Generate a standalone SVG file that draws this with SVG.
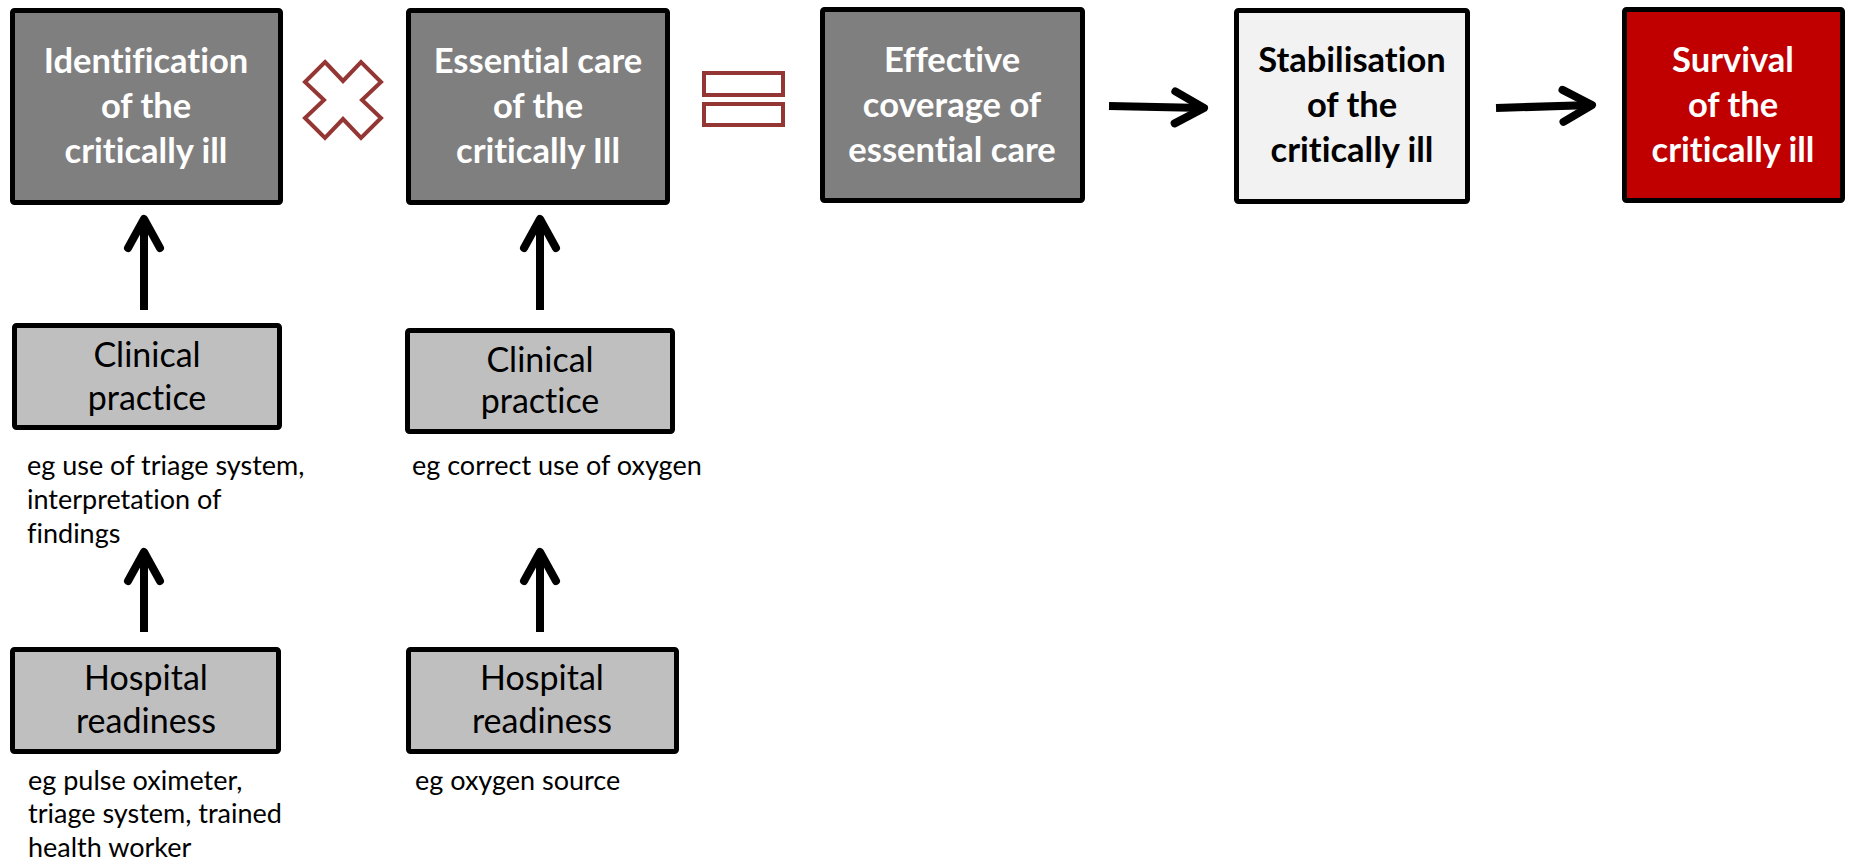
<svg xmlns="http://www.w3.org/2000/svg" width="1850" height="867" viewBox="0 0 1850 867">
<style>
.box{stroke:#000;stroke-width:5}
.dark{fill:#7f7f7f}
.light{fill:#f2f2f2}
.red{fill:#c00000}
.grey{fill:#bfbfbf}
text{font-variant-ligatures:none}
.hd{font-family:Lato,"Liberation Sans",sans-serif;font-weight:bold;font-size:34.5px;text-anchor:middle}
.w{fill:#fff}
.k{fill:#000}
.bd{font-family:Lato,"Liberation Sans",sans-serif;font-size:34px;text-anchor:middle;fill:#000}
.cap{font-family:Lato,"Liberation Sans",sans-serif;font-size:27px;fill:#000}
.op{fill:#fff;stroke:#943634;stroke-width:4}
.con{fill:none;stroke:#000;stroke-width:8;marker-end:url(#chev)}
</style>
<defs>
<marker id="chev" markerUnits="userSpaceOnUse" viewBox="-40 -25 50 50" markerWidth="50" markerHeight="50" refX="0" refY="0" orient="auto" overflow="visible">
<path d="M-29,-16 L0,0 L-29,16" fill="none" stroke="#000" stroke-width="8" stroke-linejoin="round" stroke-linecap="round"/>
</marker>
</defs>
<rect width="1850" height="867" fill="#fff"/>
<g id="identification">
<rect class="box dark" x="12.5" y="10.5" width="268" height="192" rx="2"/>
<text class="hd w"><tspan x="146" y="73">Identification</tspan><tspan x="146" y="118">of the</tspan><tspan x="146" y="163">critically ill</tspan></text>
</g>
<g id="times">
<polygon class="op" points="325,62 343,81 361,62 381,82 362,100 381,118 361,138 343,119 325,138 305,118 324,100 305,82"/>
</g>
<g id="essential-care">
<rect class="box dark" x="408.5" y="10.5" width="259" height="192" rx="2"/>
<text class="hd w"><tspan x="538" y="73">Essential care</tspan><tspan x="538" y="118">of the</tspan><tspan x="538" y="163">critically Ill</tspan></text>
</g>
<g id="equals">
<rect class="op" x="704" y="73" width="79" height="22"/>
<rect class="op" x="704" y="104" width="79" height="21"/>
</g>
<g id="effective-coverage">
<rect class="box dark" x="822.5" y="9.5" width="260" height="191" rx="2"/>
<text class="hd w"><tspan x="952" y="72">Effective</tspan><tspan x="952" y="117">coverage of</tspan><tspan x="952" y="162">essential care</tspan></text>
</g>
<g id="stabilisation">
<rect class="box light" x="1236.5" y="10.5" width="231" height="191" rx="2"/>
<text class="hd k"><tspan x="1352" y="72">Stabilisation</tspan><tspan x="1352" y="117">of the</tspan><tspan x="1352" y="162">critically ill</tspan></text>
</g>
<g id="survival">
<rect class="box red" x="1624.5" y="9.5" width="218" height="191" rx="2"/>
<text class="hd w"><tspan x="1733" y="72">Survival</tspan><tspan x="1733" y="117">of the</tspan><tspan x="1733" y="162">critically ill</tspan></text>
</g>
<g id="clinical-practice-1">
<rect class="box grey" x="14.5" y="325.5" width="265" height="102" rx="2"/>
<text class="bd"><tspan x="147" y="367">Clinical</tspan><tspan x="147" y="410">practice</tspan></text>
<text class="cap"><tspan x="27" y="475">eg use of triage system,</tspan><tspan x="27" y="509">interpretation of</tspan><tspan x="27" y="543">findings</tspan></text>
</g>
<g id="clinical-practice-2">
<rect class="box grey" x="407.5" y="330.5" width="265" height="101" rx="2"/>
<text class="bd"><tspan x="540" y="372">Clinical</tspan><tspan x="540" y="413">practice</tspan></text>
<text class="cap"><tspan x="412" y="475">eg correct use of oxygen</tspan></text>
</g>
<g id="hospital-readiness-1">
<rect class="box grey" x="12.5" y="649.5" width="266" height="102" rx="2"/>
<text class="bd"><tspan x="146" y="690">Hospital</tspan><tspan x="146" y="733">readiness</tspan></text>
<text class="cap"><tspan x="28" y="790">eg pulse oximeter,</tspan><tspan x="28" y="823">triage system, trained</tspan><tspan x="28" y="857">health worker</tspan></text>
</g>
<g id="hospital-readiness-2">
<rect class="box grey" x="408.5" y="649.5" width="268" height="102" rx="2"/>
<text class="bd"><tspan x="542" y="690">Hospital</tspan><tspan x="542" y="733">readiness</tspan></text>
<text class="cap"><tspan x="415" y="790">eg oxygen source</tspan></text>
</g>
<g id="connectors">
<path class="con" d="M144,310 L144,219"/>
<path class="con" d="M540,310 L540,219"/>
<path class="con" d="M144,632 L144,552"/>
<path class="con" d="M540,632 L540,552"/>
<path class="con" d="M1109,106 L1204,108"/>
<path class="con" d="M1496,108 L1592,105"/>
</g>
</svg>
